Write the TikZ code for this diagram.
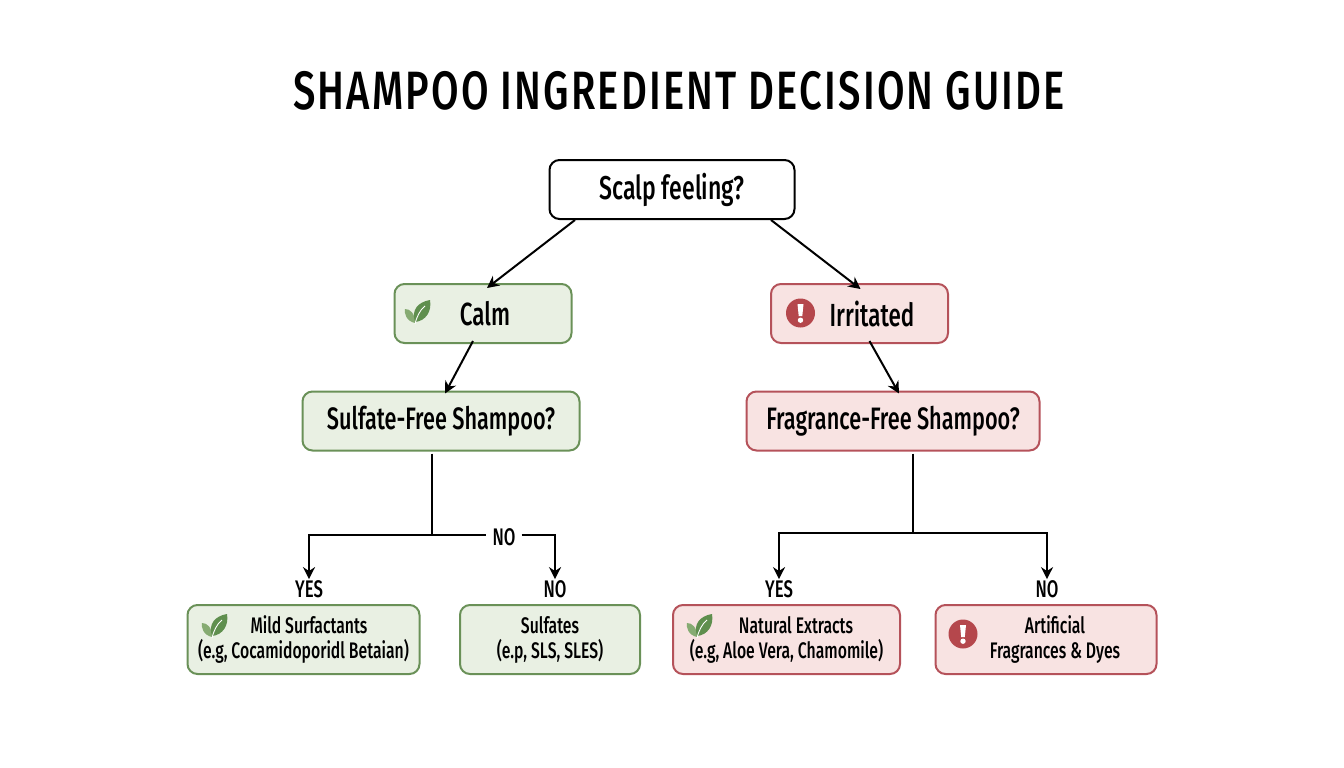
\documentclass[tikz,border=0pt]{standalone}
\usepackage{fontspec}
\setmainfont[FakeStretch=0.70]{Fira Sans Medium}
\newfontfamily\titlefont[FakeStretch=0.74,LetterSpace=4]{Fira Sans Medium}
\usetikzlibrary{arrows.meta,positioning}

\definecolor{calmline}{HTML}{6A9158}
\definecolor{calmfill}{HTML}{E9F0E3}
\definecolor{sorefill}{HTML}{F8E3E2}
\definecolor{soreline}{HTML}{B5525A}
\definecolor{soredot}{HTML}{B5474C}
\definecolor{leafdark}{HTML}{5F8F4E}
\definecolor{leaflight}{HTML}{86AB72}

\tikzstyle{rootbox}=[rectangle,rounded corners=10pt,line width=2pt,draw=black,fill=white,minimum width=245pt,minimum height=59pt,font=\fontsize{33}{38}\selectfont]
\tikzstyle{calmbox}=[rectangle,rounded corners=10pt,line width=2pt,draw=calmline,fill=calmfill,minimum height=59pt,font=\fontsize{32}{37}\selectfont]
\tikzstyle{sorebox}=[calmbox,draw=soreline,fill=sorefill]
\tikzstyle{calmleaf}=[calmbox,minimum height=69pt,align=center,font=\fontsize{22.5}{25}\selectfont]
\tikzstyle{soreleaf}=[calmleaf,draw=soreline,fill=sorefill]
\tikzstyle{answer}=[inner sep=1pt,font=\fontsize{24}{27}\selectfont]
\tikzstyle{flow}=[line width=2pt,-{Stealth[length=12pt,width=12pt]}]
\tikzstyle{stem}=[line width=2pt]

\tikzset{
  leaf/.pic={
    \fill[leaflight] (-3,11) .. controls (-12,9) and (-14,1) .. (-13,-3) .. controls (-8,-3) and (-3,1) .. cycle;
    \fill[leafdark] (-3,10) .. controls (-7,-2) and (0,-10) .. (12,-12) .. controls (14,-1) and (8,9) .. cycle;
    \draw[white,line width=0.9pt] (-3,12) .. controls (-1,4) and (2,-2) .. (7,-6);
  },
  alert/.pic={
    \fill[soredot] (0,0) circle (14.5pt);
    \fill[white] (-3,-9) -- (3,-9) -- (1.8,3) -- (-1.8,3) -- cycle;
    \fill[white] (0,7.2) circle (2.7pt);
  }
}

\begin{document}
\begin{tikzpicture}[x=1pt,y=-1pt]
	\useasboundingbox (0,0) rectangle (1344,768);

	% title
	\node (title) at (679,91) {\titlefont\fontsize{54}{64}\selectfont SHAMPOO INGREDIENT DECISION GUIDE};

	% top of the tree
	\node [rootbox] (root) at (672,189.5) {Scalp feeling?};
	\node [calmbox,minimum width=177pt] (calm) at (483,313.5) {\hspace*{4pt}Calm};
	\node [sorebox,minimum width=177pt] (irritated) at (859.5,313.5) {\hspace*{25pt}Irritated};
	\node [calmbox,minimum width=277pt,font=\fontsize{31}{36}\selectfont] (sulfate) at (441,421) {Sulfate-Free Shampoo?};
	\node [sorebox,minimum width=293pt,font=\fontsize{31}{36}\selectfont] (fragrance) at (893,421) {Fragrance-Free Shampoo?};

	% bottom row
	\node [calmleaf,minimum width=232pt] (mild) at (303.5,639.5) {\hspace*{11pt}Mild Surfactants\\(e.g, Cocamidoporidl Betaian)};
	\node [calmleaf,minimum width=180pt] (sulfates) at (550,639.5) {Sulfates\\(e.p, SLS, SLES)};
	\node [soreleaf,minimum width=227pt] (natural) at (786.5,639.5) {\hspace*{19pt}Natural Extracts\\(e.g, Aloe Vera, Chamomile)};
	\node [soreleaf,minimum width=221pt] (artificial) at (1046,639.5) {\hspace*{18pt}Artificial\\\hspace*{18pt}Fragrances \& Dyes};

	% answers
	\node [answer] (yesleft) at (309,589) {YES};
	\node [answer] (noleft) at (555,589) {NO};
	\node [answer] (yesright) at (779,589) {YES};
	\node [answer] (noright) at (1047,589) {NO};
	\node [answer,inner sep=6pt] (nomid) at (504,537) {NO};

	\coordinate (forkleft) at (432,535);
	\coordinate (forkright) at (913,533);

	% connectors
	\draw [flow] ([xshift=-97pt]root.south) -- ([xshift=4pt,yshift=-5pt]calm.north);
	\draw [flow] ([xshift=99pt]root.south) -- ([xshift=1pt,yshift=-6pt]irritated.north);
	\draw [flow] ([xshift=-10pt,yshift=3pt]calm.south) -- ([xshift=4pt,yshift=-3pt]sulfate.north);
	\draw [flow] ([xshift=10pt,yshift=3pt]irritated.south) -- ([xshift=6pt,yshift=-3pt]fragrance.north);

	\draw [stem] (sulfate.south -| forkleft) ++(0,2) -- (forkleft);
	\draw [flow] (forkleft) -| (yesleft.north);
	\draw [stem] (forkleft) -- (forkleft -| nomid.west);
	\draw [flow] (forkleft -| nomid.east) -| (noleft.north);

	\draw [stem] (fragrance.south -| forkright) ++(0,2) -- (forkright);
	\draw [flow] (forkright) -| (yesright.north);
	\draw [flow] (forkright) -| (noright.north);

	% icons
	\path (418,312) pic {leaf};
	\path (800.5,313) pic {alert};
	\path (215,626) pic {leaf};
	\path (700,626) pic {leaf};
	\path (963,634) pic {alert};
\end{tikzpicture}
\end{document}
